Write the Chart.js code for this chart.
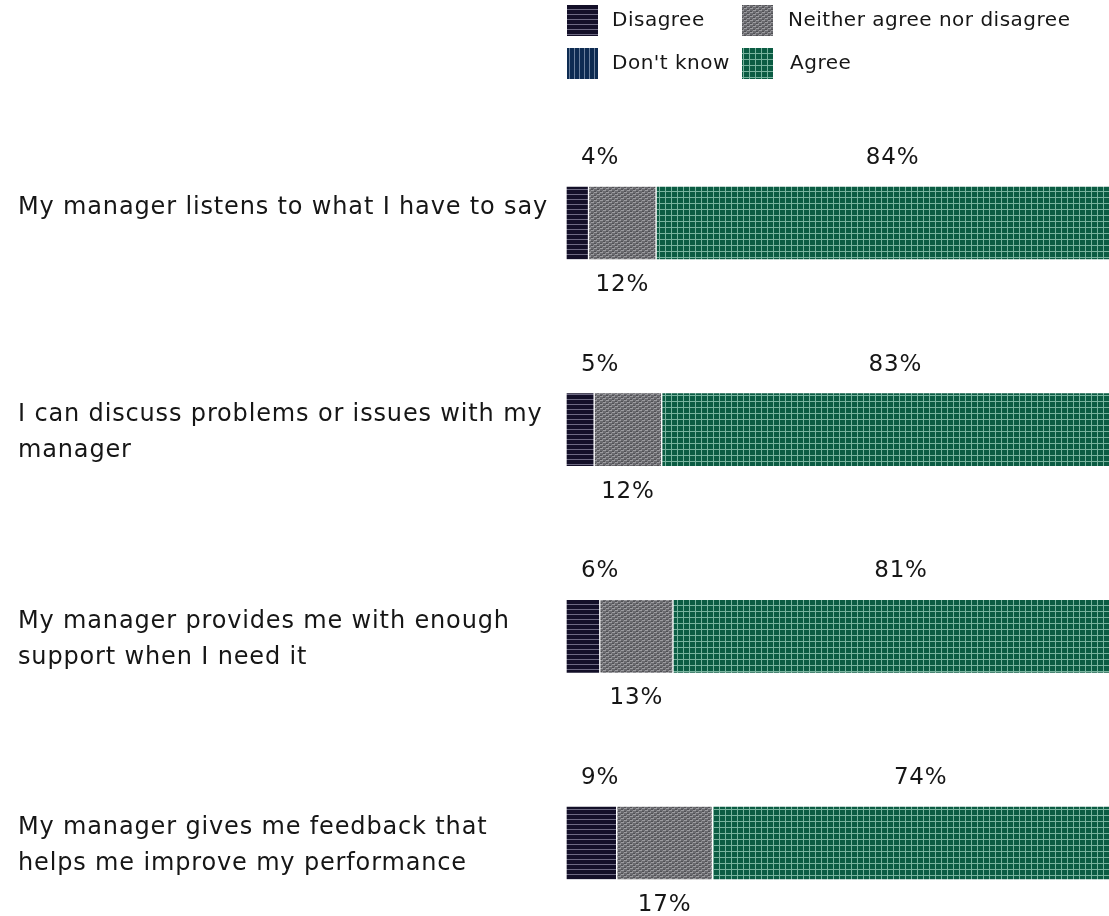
<!DOCTYPE html>
<html><head><meta charset="utf-8">
<script src="https://cdn.jsdelivr.net/npm/chart.js@4"></script>
<style>html,body{margin:0;padding:0;overflow:hidden;background:#fff}#wrap{width:1140px;height:916px}</style>
</head><body><div id="wrap"><canvas id="c" width="1140" height="916"></canvas></div>
<script>
const categories = [
  ['My manager listens to what I have to say', ''],
  ['I can discuss problems or issues with my', 'manager'],
  ['My manager provides me with enough', 'support when I need it'],
  ['My manager gives me feedback that', 'helps me improve my performance']
];
const seriesNames = ['Disagree', 'Neither agree nor disagree', "Don't know", 'Agree'];
const disagree = [4, 5, 6, 9];
const neither = [12, 12, 13, 17];
const dontKnow = [0, 0, 0, 0];
const agree = [84, 83, 81, 74];

const FONT = '"DejaVu Sans", sans-serif';
const TEXT = '#161616';

function makePattern(w, h, draw) {
  const c = document.createElement('canvas');
  c.width = w; c.height = h;
  const x = c.getContext('2d');
  draw(x, w, h);
  return document.createElement('canvas').getContext('2d').createPattern(c, 'repeat');
}
const pDisagree = makePattern(1, 5, (x) => {
  x.fillStyle = '#130f28'; x.fillRect(0, 0, 1, 5);
  x.fillStyle = '#6d6982'; x.fillRect(0, 4, 1, 1);
});
const pDontKnow = makePattern(5, 1, (x) => {
  x.fillStyle = '#0d2b52'; x.fillRect(0, 0, 5, 1);
  x.fillStyle = '#6a7f9c'; x.fillRect(4, 0, 1, 1);
});
const pAgree = makePattern(6, 6, (x) => {
  x.fillStyle = '#0b5c43'; x.fillRect(0, 0, 6, 6);
  x.fillStyle = '#78b39e'; x.fillRect(5, 0, 1, 6); x.fillRect(0, 5, 6, 1);
});
const pNeither = makePattern(6, 4, (x) => {
  x.fillStyle = '#6a6a6f'; x.fillRect(0, 0, 6, 4);
  x.fillStyle = '#9c9ca0'; x.fillRect(0, 0, 3, 1); x.fillRect(3, 2, 3, 1);
  x.fillStyle = '#505054'; x.fillRect(3, 1, 2, 1); x.fillRect(0, 3, 2, 1);
  x.fillStyle = '#848488'; x.fillRect(5, 1, 1, 1); x.fillRect(2, 3, 1, 1);
});

const spacing = {
  id: 'spacing',
  beforeDraw(chart) { chart.ctx.letterSpacing = '0.85px'; }
};

const valueLabels = {
  id: 'valueLabels',
  afterDatasetsDraw(chart) {
    const ctx = chart.ctx;
    ctx.save();
    ctx.letterSpacing = '0.8px';
    ctx.font = '23px ' + FONT;
    ctx.fillStyle = TEXT;
    ctx.textAlign = 'center';
    ctx.textBaseline = 'middle';
    chart.data.datasets.forEach((ds, di) => {
      const meta = chart.getDatasetMeta(di);
      meta.data.forEach((bar, i) => {
        const v = ds.data[i];
        if (!v) return;
        const p = bar.getProps(['x', 'y', 'base', 'height'], true);
        const left = Math.min(p.x, p.base), right = Math.max(p.x, p.base);
        let cx = (left + right) / 2;
        let ty;
        if (ds.labelPos === 'below') {
          ty = p.y + p.height / 2 + 25;
        } else {
          ty = p.y - p.height / 2 - 28;
          if (ds.labelPos === 'aboveNudge') cx = Math.max(cx, left + 34);
        }
        ctx.fillText(v + '%', cx, ty);
      });
    });
    ctx.restore();
  }
};

const legendPlugin = {
  id: 'gridLegend',
  afterDraw(chart) {
    const ctx = chart.ctx;
    const slots = [[567, 5, 612], [742, 5, 788], [567, 48, 612], [742, 48, 790]];
    ctx.save();
    ctx.letterSpacing = '0.5px';
    ctx.font = '20px ' + FONT;
    ctx.textBaseline = 'middle';
    ctx.textAlign = 'left';
    chart.data.datasets.forEach((ds, i) => {
      const [bx, by, tx] = slots[i];
      ctx.fillStyle = ds.backgroundColor;
      ctx.fillRect(bx, by, 31, 31);
      ctx.fillStyle = TEXT;
      ctx.fillText(ds.label, tx, by + 16);
    });
    ctx.restore();
  }
};

new Chart(document.getElementById('c'), {
  type: 'bar',
  data: {
    labels: categories,
    datasets: [
      { label: seriesNames[0], data: disagree, backgroundColor: pDisagree, labelPos: 'aboveNudge' },
      { label: seriesNames[1], data: neither, backgroundColor: pNeither, labelPos: 'below' },
      { label: seriesNames[2], data: dontKnow, backgroundColor: pDontKnow, labelPos: 'above' },
      { label: seriesNames[3], data: agree, backgroundColor: pAgree, labelPos: 'above' }
    ]
  },
  options: {
    indexAxis: 'y',
    responsive: false,
    devicePixelRatio: 1,
    animation: false,
    datasets: { bar: { barThickness: 74, borderColor: '#ffffff', borderWidth: 1, borderSkipped: false, clip: false } },
    layout: { padding: { left: 18, top: 223, bottom: 73, right: 11 } },
    plugins: { legend: { display: false }, tooltip: { enabled: false } },
    scales: {
      x: { type: 'linear', min: 0, max: 100, stacked: true, display: false },
      y: {
        type: 'category', stacked: true, offset: false,
        grid: { display: false }, border: { display: false },
        ticks: { crossAlign: 'far', padding: 0, labelOffset: 3, color: TEXT, font: { family: FONT, size: 24, lineHeight: 1.5 } },
        afterFit(scale) { scale.width = 548; }
      }
    }
  },
  plugins: [spacing, valueLabels, legendPlugin]
});
</script>
</body></html>
